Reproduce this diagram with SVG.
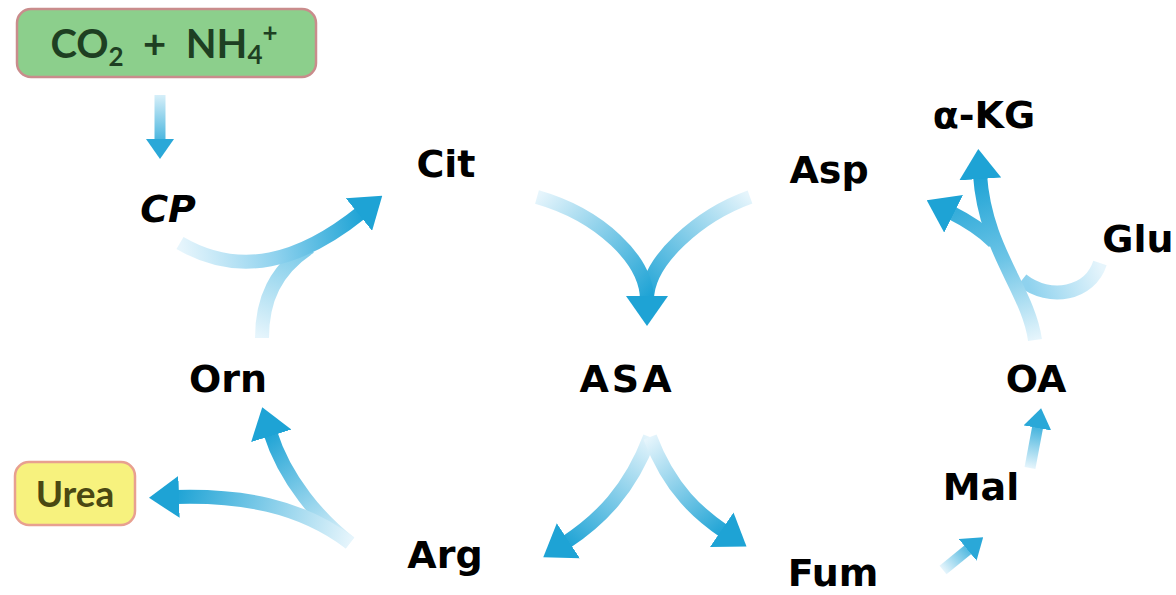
<svg xmlns="http://www.w3.org/2000/svg" width="1176" height="595" viewBox="0 0 1176 595">
<style>
.lbl{font-family:"DejaVu Sans","Liberation Sans",sans-serif;font-weight:bold;font-size:38px;fill:#000;text-anchor:middle}
.arr{fill:none;stroke-width:14;stroke-linecap:butt}
.sm{fill:none;stroke-width:11;stroke-linecap:butt}
.box{font-family:Lato,"Open Sans",sans-serif;font-weight:bold;text-anchor:middle}
</style>
<defs>
<marker id="hd" markerUnits="userSpaceOnUse" markerWidth="30" markerHeight="42" viewBox="0 0 30 42" refX="4" refY="21" orient="auto"><path d="M0,0 L30,21 L0,42 z" fill="#1ea3d5"/></marker>
<marker id="hs" markerUnits="userSpaceOnUse" markerWidth="20" markerHeight="28" viewBox="0 0 20 28" refX="3" refY="14" orient="auto"><path d="M0,0 L20,14 L0,28 z" fill="#2aa8d8"/></marker>
<linearGradient id="g0" gradientUnits="userSpaceOnUse" x1="160" y1="95" x2="160" y2="145"><stop offset="0" stop-color="#d6eff9"/><stop offset="1" stop-color="#3cb0dc"/></linearGradient>
<linearGradient id="g1" gradientUnits="userSpaceOnUse" x1="180" y1="243" x2="362" y2="212"><stop offset="0" stop-color="#e6f5fc"/><stop offset="0.5" stop-color="#8fd2ee"/><stop offset="1" stop-color="#1ea3d5"/></linearGradient>
<linearGradient id="g1b" gradientUnits="userSpaceOnUse" x1="262" y1="338" x2="300" y2="250"><stop offset="0" stop-color="#e6f5fc"/><stop offset="1" stop-color="#7ccbe9"/></linearGradient>
<linearGradient id="g2l" gradientUnits="userSpaceOnUse" x1="537" y1="197" x2="647" y2="300"><stop offset="0" stop-color="#e6f5fc"/><stop offset="1" stop-color="#1ea3d5"/></linearGradient>
<linearGradient id="g2r" gradientUnits="userSpaceOnUse" x1="750" y1="197" x2="647" y2="300"><stop offset="0" stop-color="#e6f5fc"/><stop offset="1" stop-color="#1ea3d5"/></linearGradient>
<linearGradient id="g3l" gradientUnits="userSpaceOnUse" x1="650" y1="437" x2="565" y2="543"><stop offset="0" stop-color="#e6f5fc"/><stop offset="1" stop-color="#1ea3d5"/></linearGradient>
<linearGradient id="g3r" gradientUnits="userSpaceOnUse" x1="650" y1="437" x2="725" y2="532"><stop offset="0" stop-color="#e6f5fc"/><stop offset="1" stop-color="#1ea3d5"/></linearGradient>
<linearGradient id="g4o" gradientUnits="userSpaceOnUse" x1="350" y1="543" x2="270" y2="432"><stop offset="0" stop-color="#e6f5fc"/><stop offset="1" stop-color="#1ea3d5"/></linearGradient>
<linearGradient id="g4u" gradientUnits="userSpaceOnUse" x1="350" y1="543" x2="175" y2="497"><stop offset="0" stop-color="#e6f5fc"/><stop offset="1" stop-color="#1ea3d5"/></linearGradient>
<linearGradient id="g5" gradientUnits="userSpaceOnUse" x1="943" y1="570" x2="972" y2="546"><stop offset="0" stop-color="#e6f5fc"/><stop offset="1" stop-color="#3cb0dc"/></linearGradient>
<linearGradient id="g6" gradientUnits="userSpaceOnUse" x1="1030" y1="468" x2="1038" y2="425"><stop offset="0" stop-color="#e6f5fc"/><stop offset="1" stop-color="#3cb0dc"/></linearGradient>
<linearGradient id="g7" gradientUnits="userSpaceOnUse" x1="1035" y1="340" x2="980" y2="175"><stop offset="0" stop-color="#e6f5fc"/><stop offset="0.5" stop-color="#6cc4e6"/><stop offset="1" stop-color="#1ea3d5"/></linearGradient>
<linearGradient id="g7g" gradientUnits="userSpaceOnUse" x1="1100" y1="263" x2="1030" y2="290"><stop offset="0" stop-color="#e6f5fc"/><stop offset="1" stop-color="#8fd2ee"/></linearGradient>
</defs>

<g id="connectors">
<path class="sm" d="M160,95 L160,142" stroke="url(#g0)" marker-end="url(#hs)"/>
<path class="arr" d="M262,338 C262,300 275,270 310,247" stroke="url(#g1b)"/>
<path class="arr" d="M180,243 C240,278 300,262 362,212" stroke="url(#g1)" marker-end="url(#hd)"/>
<path class="arr" d="M750,197 C700,215 647,260 647,300" stroke="url(#g2r)"/>
<path class="arr" d="M537,197 C600,215 647,260 647,300" stroke="url(#g2l)" marker-end="url(#hd)"/>
<path class="arr" d="M650,437 C630,490 600,520 565,543" stroke="url(#g3l)" marker-end="url(#hd)"/>
<path class="arr" d="M650,437 C670,490 700,515 725,532" stroke="url(#g3r)" marker-end="url(#hd)"/>
<path class="arr" d="M350,543 C320,520 285,480 270,432" stroke="url(#g4o)" marker-end="url(#hd)"/>
<path class="arr" d="M350,543 C300,505 240,495 175,497" stroke="url(#g4u)" marker-end="url(#hd)"/>
<path class="sm" d="M943,570 L970,548" stroke="url(#g5)" marker-end="url(#hs)"/>
<path class="sm" d="M1030,468 L1038,425" stroke="url(#g6)" marker-end="url(#hs)"/>
<path class="arr" d="M1100,263 C1090,294 1050,302 1022,280" stroke="url(#g7g)"/>
<path class="arr" d="M1035,340 C1028,290 985,250 980,175" stroke="url(#g7)" marker-end="url(#hd)"/>
<path class="arr" d="M994,242 C982,230 966,220 950,212" stroke="url(#g7)" marker-end="url(#hd)"/>
</g>

<g id="node-co2">
<rect x="17" y="9" width="299" height="68" rx="14" fill="#8ccf8c" stroke="#c98c8c" stroke-width="2.5"/>
<text class="box" x="164" y="58" font-size="40" fill="#1e3f22">CO<tspan font-size="26" dy="8">2</tspan><tspan dy="-8" xml:space="preserve">  +  NH</tspan><tspan font-size="26" dy="6">4</tspan><tspan font-size="26" dy="-22">+</tspan></text>
</g>
<g id="node-urea">
<rect x="15" y="462" width="120" height="63" rx="14" fill="#f7f27e" stroke="#e8a090" stroke-width="2.5"/>
<text class="box" x="75" y="507" font-size="37" fill="#4a4812">Urea</text>
</g>
<g id="node-cp"><text class="lbl" x="168" y="222" font-style="italic">CP</text></g>
<g id="node-cit"><text class="lbl" x="446" y="177">Cit</text></g>
<g id="node-asp"><text class="lbl" x="829" y="183">Asp</text></g>
<g id="node-akg"><text class="lbl" x="984" y="128">α-KG</text></g>
<g id="node-glu"><text class="lbl" x="1138" y="252">Glu</text></g>
<g id="node-orn"><text class="lbl" x="228" y="392">Orn</text></g>
<g id="node-asa"><text class="lbl" x="627" y="392" letter-spacing="3">ASA</text></g>
<g id="node-oa"><text class="lbl" x="1036" y="392">OA</text></g>
<g id="node-mal"><text class="lbl" x="981" y="500">Mal</text></g>
<g id="node-arg"><text class="lbl" x="445" y="568">Arg</text></g>
<g id="node-fum"><text class="lbl" x="833" y="586">Fum</text></g>
</svg>
